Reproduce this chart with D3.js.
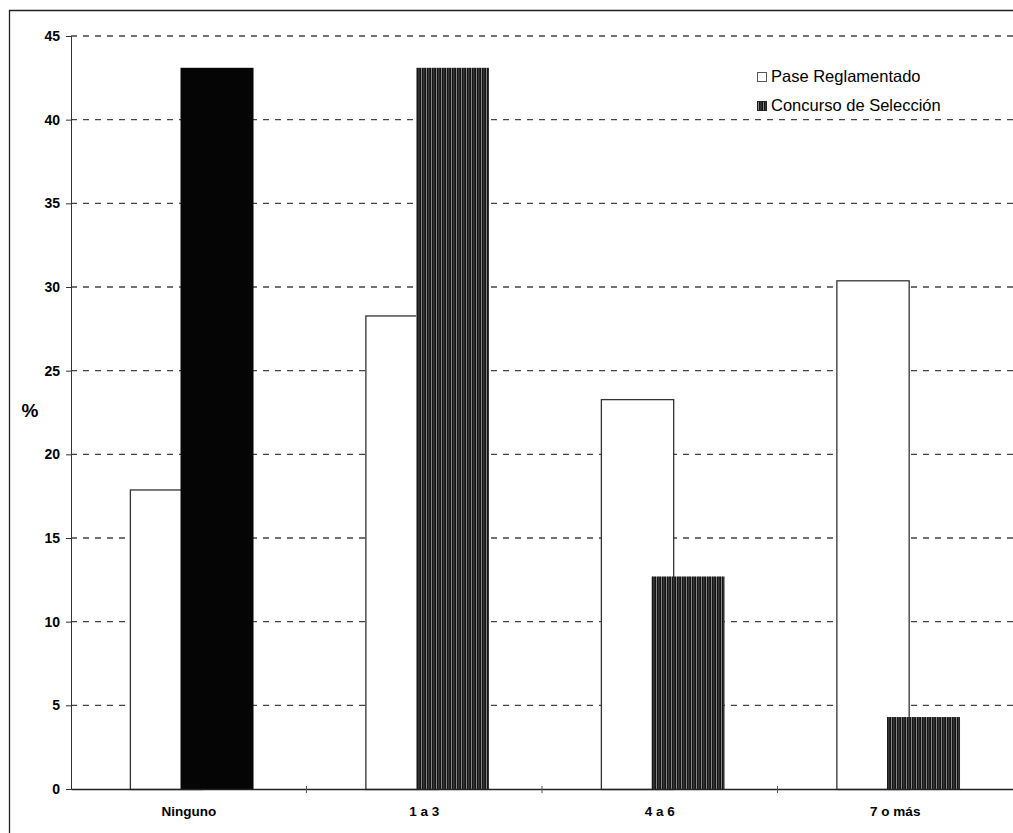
<!DOCTYPE html>
<html><head><meta charset="utf-8">
<script src="https://cdn.jsdelivr.net/npm/d3@7"></script>
<style>body{margin:0;background:#fff}svg{display:block}</style>
</head><body>
<script>
const categories = ["Ninguno", "1 a 3", "4 a 6", "7 o más"];
const seriesNames = ["Pase Reglamentado", "Concurso de Selección"];
const pase = [17.9, 28.3, 23.3, 30.4];
const concurso = [43.1, 43.1, 12.7, 4.3];
const yTicks = [0, 5, 10, 15, 20, 25, 30, 35, 40, 45];

const W = 1013, H = 833;
const svg = d3.select("body").append("svg").attr("width", W).attr("height", H);
const defs = svg.append("defs");
const pat = defs.append("pattern").attr("id","stripes").attr("patternUnits","userSpaceOnUse")
  .attr("width", 5).attr("height", 8);
pat.append("rect").attr("width",5).attr("height",8).attr("fill","#141414");
pat.append("rect").attr("x",1).attr("width",1).attr("height",8).attr("fill","#888");
pat.append("rect").attr("x",3.5).attr("width",0.8).attr("height",8).attr("fill","#555");

const mLeft = 71, mRight = 1013, mTop = 36, mBottom = 789;
const x = d3.scaleBand().domain(categories).range([mLeft, mRight]).padding(0);
const y = d3.scaleLinear().domain([0, 45]).range([mBottom, mTop]);
const bw = x.bandwidth();
const font = "Liberation Sans, Arial, sans-serif";

// border
svg.append("path").attr("d", `M9.5,${H} L9.5,10.5 L${W},10.5`).attr("fill","none").attr("stroke","#222").attr("stroke-width",1.3);

// gridlines
svg.append("g").selectAll("line").data(yTicks.filter(d => d > 0)).join("line")
  .attr("x1", mLeft).attr("x2", mRight).attr("y1", d => y(d)).attr("y2", d => y(d))
  .attr("stroke", "#444").attr("stroke-width", 1.3).attr("stroke-dasharray", "6,6");

// y axis
const yAxis = svg.append("g").attr("transform", `translate(${mLeft},0)`)
  .call(d3.axisLeft(y).tickValues(yTicks).tickSize(5).tickPadding(6));
yAxis.select(".domain").attr("stroke","#333").attr("stroke-width",1);
yAxis.selectAll(".tick line").attr("stroke","#333");
yAxis.selectAll("text").attr("font-family",font).attr("font-size",14).attr("font-weight","bold").attr("fill","#000");

// bars
svg.append("g").selectAll("rect").data(pase).join("rect")
  .attr("x", (d,i) => x(categories[i]) + bw*0.25 + 0.5)
  .attr("width", bw*0.307)
  .attr("y", d => y(d) + 0.5)
  .attr("height", d => y(0) - y(d))
  .attr("fill","#fff").attr("stroke","#333").attr("stroke-width",1.3);

svg.append("g").selectAll("rect").data(concurso).join("rect")
  .attr("x", (d,i) => x(categories[i]) + bw*0.465)
  .attr("width", bw*0.31)
  .attr("y", d => y(d))
  .attr("height", d => y(0) - y(d))
  .attr("fill", (d,i) => i === 0 ? "#050505" : "url(#stripes)");

// x axis
const xAxis = svg.append("g").attr("transform", `translate(0,${mBottom})`)
  .call(d3.axisBottom(x).tickSize(0).tickPadding(17));
xAxis.select(".domain").attr("stroke","#222").attr("stroke-width",1.3);
xAxis.selectAll("text").attr("font-family",font).attr("font-size",13.5).attr("font-weight","bold").attr("fill","#000");
svg.append("g").selectAll("line").data(categories.slice(1)).join("line")
  .attr("x1", d => x(d)).attr("x2", d => x(d)).attr("y1", mBottom-3).attr("y2", mBottom+4)
  .attr("stroke","#555");

// y label
svg.append("text").attr("x", 30).attr("y", 417).attr("text-anchor","middle")
  .attr("font-family",font).attr("font-size",19).attr("font-weight","bold").text("%");

// legend
const lg = svg.append("g").attr("transform","translate(757,66)");
seriesNames.forEach((n,i) => {
  const g = lg.append("g").attr("transform", `translate(0,${i*29})`);
  g.append("rect").attr("x",0.5).attr("y",6.5).attr("width",9).attr("height",9)
    .attr("fill", i===0 ? "#fff" : "url(#stripes)").attr("stroke", i===0 ? "#555" : "#222").attr("stroke-width",1);
  g.append("text").attr("x",14).attr("y",15.5).attr("font-family",font)
    .attr("font-size",16.5).attr("fill","#000").text(n);
});
</script>
</body></html>
